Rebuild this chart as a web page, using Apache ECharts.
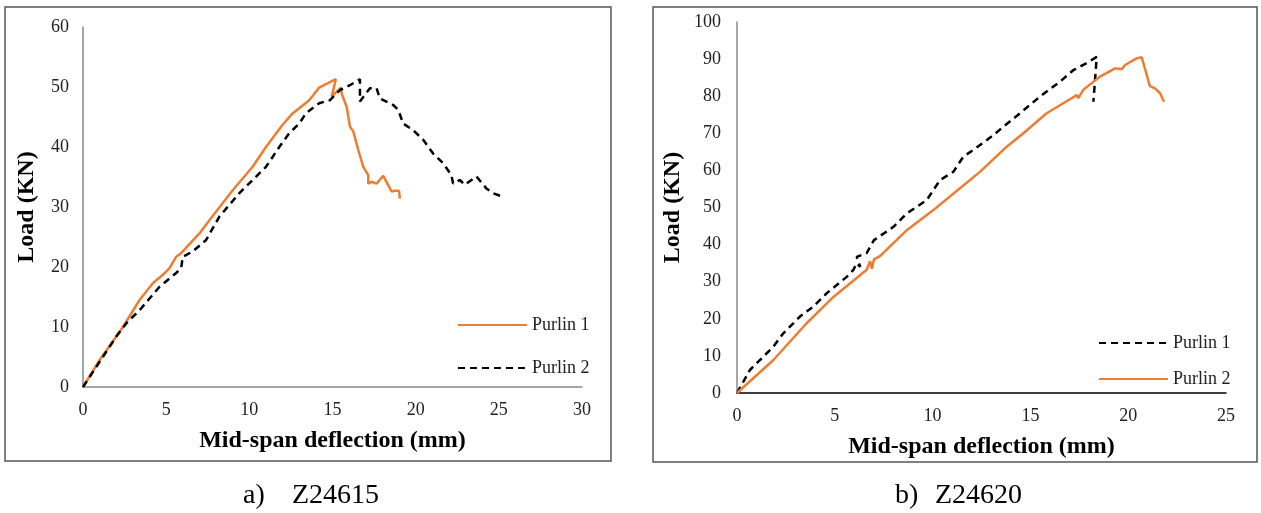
<!DOCTYPE html>
<html>
<head>
<meta charset="utf-8">
<script src="https://cdn.jsdelivr.net/npm/echarts@6/dist/echarts.min.js"></script>
<style>
html,body{margin:0;padding:0;background:#fff;}
#c{width:1261px;height:513px;}
</style>
</head>
<body>
<div id="c"></div>
<script>
// ---- Data: (a) Z24615 ----
const aXTicks = [0, 5, 10, 15, 20, 25, 30];
const aYTicks = [0, 10, 20, 30, 40, 50, 60];
const aP1x = [0,1.0,2.4,3.4,4.2,4.8,5.2,5.6,5.9,7.0,7.6,9.0,10.2,11.0,12.0,12.6,13.6,14.2,15.2,14.95,15.5,15.55,15.85,16.05,16.25,16.55,16.85,17.15,17.15,17.35,17.65,18.05,18.3,18.55,18.75,19.0,19.05];
const aP1y = [0,4.5,10.0,14.5,17.3,18.7,19.8,21.7,22.3,25.6,27.8,32.8,36.7,40.0,43.7,45.6,47.8,49.9,51.3,48.4,49.9,48.9,46.7,43.4,42.6,39.5,36.7,35.3,33.9,34.2,33.9,35.2,33.9,32.6,32.7,32.7,31.4];
const aP2x = [0,2.0,2.6,3.4,4.6,5.6,5.9,6.0,6.6,7.4,8.2,9.4,10.6,11.0,11.8,12.4,13.0,13.4,14.2,14.85,15.45,16.05,16.65,16.65,17.25,17.65,17.85,18.65,18.95,19.25,19.85,20.45,21.05,21.65,22.15,22.25,22.65,22.95,23.65,24.25,24.65,25.15];
const aP2y = [0,8.4,10.6,12.8,16.7,19.0,19.8,21.7,22.6,24.5,28.4,32.3,35.6,36.7,40.0,42.3,43.9,45.6,47.3,47.8,49.5,50.3,51.3,47.6,49.8,49.8,48.1,47.0,46.2,43.9,42.8,41.2,38.9,37.3,35.3,33.9,34.5,33.7,35.1,33.1,32.3,31.8];

// ---- Data: (b) Z24620 ----
const bXTicks = [0, 5, 10, 15, 20, 25];
const bYTicks = [0, 10, 20, 30, 40, 50, 60, 70, 80, 90, 100];
const bP1x = [0,0.66,1.86,2.37,3.22,3.9,4.59,5.61,5.95,6.12,6.3,6.12,6.63,7.0,8.0,8.68,9.7,10.38,11.06,11.57,12.08,13.11,13.62,14.47,15.49,16.51,17.19,17.88,18.39,18.3,18.22];
const bP1y = [0,6.2,12.5,16.1,20.6,23.3,26.9,31.3,33.2,35.0,34.0,36.7,37.7,41.2,44.8,48.4,52.0,57.4,59.6,63.7,65.5,69.5,71.8,75.4,79.9,83.9,87.0,88.9,90.6,84.0,78.5];
const bP2x = [0,1.86,3.56,4.93,6.63,6.8,6.9,7.0,7.31,8.68,10.04,11.4,12.42,13.79,14.64,15.83,16.68,17.37,17.45,17.7,18.56,19.33,19.67,19.84,20.43,20.69,21.11,21.37,21.63,21.83];
const bP2y = [0,8.9,18.8,25.9,33.2,35.5,33.5,36.0,36.9,43.9,49.3,55.2,59.6,66.4,70.0,75.4,78.1,80.3,79.5,81.7,85.3,87.5,87.3,88.4,90.2,90.5,82.7,82.1,80.8,78.5];

const legendNames = ['Purlin 1', 'Purlin 2'];
const xTitle = 'Mid-span deflection (mm)';
const yTitle = 'Load (KN)';
const captionTags = ['a)', 'b)'];
const captionNames = ['Z24615', 'Z24620'];

const zip = (xs, ys) => xs.map((x, i) => [x, ys[i]]);
const FONT = 'Liberation Serif';
const ORANGE = '#ED7D31';

function axisX(gi, ticks, lineColor, gap) {
  return {
    type: 'value', gridIndex: gi, min: ticks[0], max: ticks[ticks.length - 1],
    interval: ticks[1] - ticks[0],
    axisLine: { show: true, onZero: false, lineStyle: { color: lineColor, width: 1.5 } },
    axisTick: { show: false }, splitLine: { show: false },
    axisLabel: { fontFamily: FONT, fontSize: 18, color: '#222', margin: 14 },
    name: xTitle, nameLocation: 'middle', nameGap: gap,
    nameTextStyle: { fontFamily: FONT, fontSize: 24, fontWeight: 'bold', color: '#000' }
  };
}
function axisY(gi, ticks, lineColor, gap, margin) {
  return {
    type: 'value', gridIndex: gi, min: ticks[0], max: ticks[ticks.length - 1],
    interval: ticks[1] - ticks[0],
    axisLine: { show: true, lineStyle: { color: lineColor, width: 1.5 } },
    axisTick: { show: false }, splitLine: { show: false },
    axisLabel: { fontFamily: FONT, fontSize: 18, color: '#222', margin: margin },
    name: yTitle, nameLocation: 'middle', nameGap: gap, nameRotate: 90,
    nameTextStyle: { fontFamily: FONT, fontSize: 24, fontWeight: 'bold', color: '#000' }
  };
}
const solid = { color: ORANGE, width: 2.5, type: 'solid' };
const dashed = { color: '#000', width: 2.5, type: [7, 5] };

function legendCfg(prefix, left, top, gap) {
  return {
    orient: 'vertical', left: left, top: top, itemWidth: 69, itemHeight: 18, itemGap: gap,
    data: legendNames.map(n => prefix + n),
    formatter: n => n.slice(2), selectedMode: false,
    itemStyle: { opacity: 0, borderWidth: 0 },
    textStyle: { fontFamily: FONT, fontSize: 18, color: '#222' }
  };
}

const option = {
  backgroundColor: '#fff',
  animation: false,
  grid: [
    { left: 83, top: 27, width: 499, height: 360 },
    { left: 737, top: 22, width: 489, height: 371 }
  ],
  xAxis: [axisX(0, aXTicks, '#898989', 42), axisX(1, bXTicks, '#000', 42)],
  yAxis: [axisY(0, aYTicks, '#898989', 44, 14), axisY(1, bYTicks, '#898989', 52, 16)],
  legend: [legendCfg('a-', 452, 311, 25), legendCfg('b-', 1093, 329, 18)],
  series: [
    { type: 'line', name: 'a-' + legendNames[0], xAxisIndex: 0, yAxisIndex: 0, data: zip(aP1x, aP1y), symbol: 'none', legendIcon: 'none', lineStyle: solid, itemStyle: { color: ORANGE } },
    { type: 'line', name: 'a-' + legendNames[1], xAxisIndex: 0, yAxisIndex: 0, data: zip(aP2x, aP2y), symbol: 'none', lineStyle: dashed, itemStyle: { color: '#000' } },
    { type: 'line', name: 'b-' + legendNames[0], xAxisIndex: 1, yAxisIndex: 1, data: zip(bP1x, bP1y), symbol: 'none', lineStyle: dashed, itemStyle: { color: '#000' } },
    { type: 'line', name: 'b-' + legendNames[1], xAxisIndex: 1, yAxisIndex: 1, data: zip(bP2x, bP2y), symbol: 'none', lineStyle: solid, itemStyle: { color: ORANGE } }
  ],
  graphic: [
    { type: 'rect', shape: { x: 5, y: 7, width: 606, height: 454 }, style: { fill: 'none', stroke: '#555', lineWidth: 1.5 }, silent: true },
    { type: 'rect', shape: { x: 653, y: 7, width: 604, height: 455 }, style: { fill: 'none', stroke: '#555', lineWidth: 1.5 }, silent: true },
    { type: 'text', left: 243, top: 482, style: { text: captionTags[0], font: '28px "Liberation Serif"', fill: '#000' }, silent: true },
    { type: 'text', left: 292, top: 482, style: { text: captionNames[0], font: '28px "Liberation Serif"', fill: '#000' }, silent: true },
    { type: 'text', left: 895, top: 482, style: { text: captionTags[1], font: '28px "Liberation Serif"', fill: '#000' }, silent: true },
    { type: 'text', left: 935, top: 482, style: { text: captionNames[1], font: '28px "Liberation Serif"', fill: '#000' }, silent: true }
  ]
};
const chart = echarts.init(document.getElementById('c'), null, { renderer: 'canvas' });
chart.setOption(option);
</script>
</body>
</html>
